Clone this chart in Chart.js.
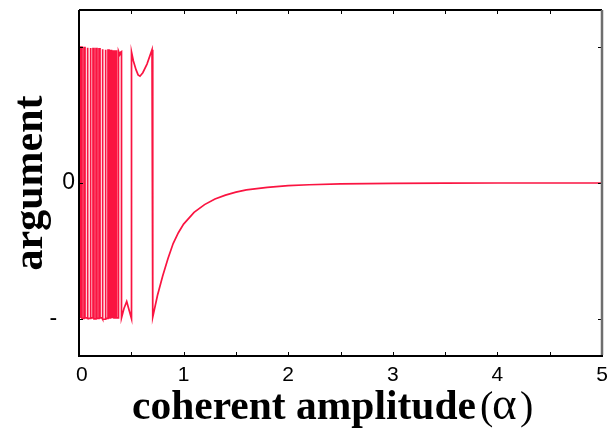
<!DOCTYPE html>
<html>
<head>
<meta charset="utf-8">
<script src="https://cdn.jsdelivr.net/npm/chart.js@4/dist/chart.umd.min.js"></script>
<style>
  html, body { margin: 0; padding: 0; background: #ffffff; }
  #wrap { width: 613px; height: 428px; }
</style>
</head>
<body>
<div id="wrap"><canvas id="c" width="613" height="428"></canvas></div>
<script>
// ---- data ----
const alpha = [
  0.000, 0.0115, 0.0115, 0.0191, 0.0191, 0.0287, 0.0287, 0.0478, 0.0478, 0.0574,
  0.0574, 0.0765, 0.0765, 0.0860, 0.0860, 0.1052, 0.1052, 0.1147, 0.1147, 0.1338,
  0.1338, 0.1434, 0.1434, 0.1625, 0.1625, 0.1721, 0.1721, 0.1912, 0.1912, 0.2008,
  0.2008, 0.2199, 0.2199, 0.2294, 0.2294, 0.2486, 0.2486, 0.2581, 0.2581, 0.2772,
  0.2772, 0.2868, 0.2868, 0.3011, 0.3011, 0.3107, 0.3107, 0.3250, 0.3250, 0.3346,
  0.3346, 0.3489, 0.3489, 0.3585, 0.3585, 0.3776, 0.3776, 0.390, 0.400, 0.4063,
  0.4063, 0.430, 0.456, 0.480, 0.502, 0.502, 0.520, 0.545, 0.565, 0.583,
  0.610, 0.650, 0.698, 0.705, 0.750, 0.800, 0.850, 0.900, 0.950, 1.000,
  1.100, 1.200, 1.300, 1.400, 1.500, 1.600, 1.800, 2.000, 2.200, 2.500,
  3.000, 3.500, 4.000, 5.000
];
const argValues = [
  3.14, 3.14, -3.12, -3.12, 3.14, 3.14, -3.13, -3.13, 3.13, 3.13,
  -3.12, -3.12, 3.13, 3.13, -3.13, -3.13, 3.12, 3.12, -3.12, -3.12,
  3.11, 3.11, -3.14, -3.14, 3.11, 3.11, -3.13, -3.13, 3.10, 3.10,
  -3.12, -3.12, 3.09, 3.09, -3.15, -3.15, 3.08, 3.08, -3.13, -3.13,
  3.07, 3.07, -3.12, -3.12, 3.06, 3.06, -3.11, -3.11, 3.05, 3.05,
  -3.12, -3.12, 3.05, 3.05, -3.12, -3.12, 3.05, 2.97, 3.03, 3.04,
  -3.12, -2.90, -2.74, -2.95, -3.14, 3.03, 2.82, 2.62, 2.50, 2.47,
  2.55, 2.75, 3.08, -3.10, -2.60, -2.15, -1.75, -1.40, -1.15, -0.95,
  -0.68, -0.50, -0.37, -0.28, -0.21, -0.16, -0.10, -0.06, -0.04, -0.02,
  -0.01, -0.005, 0.00, 0.00
];
const xTickValues = [0, 1, 2, 3, 4, 5];
const xTickLabels = [' 0', '1', '2', '3', '4', '5'];
const yTickValues = [-Math.PI, 0, Math.PI];
const yTickLabels = ['-\u2002 ', '0', ''];

const points = alpha.map((a, i) => ({ x: a, y: argValues[i] }));

const framePlugin = {
  id: 'frame',
  afterDraw(chart) {
    const { ctx, chartArea: a, scales } = chart;
    const xs = scales.x, ys = scales.y;
    ctx.save();
    // inward tick marks
    ctx.strokeStyle = '#000';
    ctx.lineWidth = 1;
    ctx.beginPath();
    for (let v = 0; v <= 5.0001; v += 0.5) {
      const px = Math.round(xs.getPixelForValue(v)) + 0.5;
      ctx.moveTo(px, a.bottom); ctx.lineTo(px, a.bottom - 4);
      ctx.moveTo(px, a.top); ctx.lineTo(px, a.top + 4);
    }
    yTickValues.forEach(v => {
      const py = Math.round(ys.getPixelForValue(v)) + 0.5;
      ctx.moveTo(a.left, py); ctx.lineTo(a.left + 4, py);
      ctx.moveTo(a.right, py); ctx.lineTo(a.right - 4, py);
    });
    ctx.stroke();
    // frame
    ctx.lineWidth = 2;
    ctx.strokeStyle = '#000';
    ctx.beginPath();
    ctx.moveTo(a.left, a.top); ctx.lineTo(a.right, a.top);
    ctx.moveTo(a.left, a.top); ctx.lineTo(a.left, a.bottom);
    ctx.moveTo(a.left - 1, a.bottom); ctx.lineTo(a.right + 1, a.bottom);
    ctx.stroke();
    ctx.strokeStyle = '#6e6e6e';
    ctx.lineWidth = 2.5;
    ctx.beginPath();
    ctx.moveTo(a.right, a.top); ctx.lineTo(a.right, a.bottom - 1);
    ctx.stroke();
    // x-axis title: bold serif words + regular (α)
    ctx.fillStyle = '#000';
    ctx.textBaseline = 'alphabetic';
    ctx.textAlign = 'left';
    ctx.font = 'bold 41.5px "Liberation Serif"';
    ctx.fillText('coherent amplitude', 132, 419);
    ctx.font = '40px "Liberation Serif"';
    ctx.fillText('(', 480, 419);
    ctx.fillText(')', 520, 419);
    ctx.font = '47px "Liberation Serif"';
    ctx.fillText('α', 492, 419);
    ctx.restore();
  }
};

new Chart(document.getElementById('c'), {
  type: 'line',
  data: {
    datasets: [{
      data: points,
      borderColor: 'rgb(250,20,65)',
      backgroundColor: 'rgb(250,20,65)',
      borderWidth: 1.7,
      pointRadius: 0,
      tension: 0,
      fill: false
    }]
  },
  options: {
    responsive: false,
    animation: false,
    devicePixelRatio: 1,
    layout: { padding: { left: 0, right: 11, top: 10, bottom: 0 } },
    plugins: { legend: { display: false }, tooltip: { enabled: false } },
    scales: {
      x: {
        type: 'linear',
        min: 0, max: 5,
        grid: { display: false, drawTicks: false },
        border: { display: false },
        afterBuildTicks: s => { s.ticks = xTickValues.map(v => ({ value: v })); },
        afterFit: s => { s.height = 72; s.paddingLeft = 0; s.paddingRight = 0; },
        ticks: {
          color: '#000',
          font: { family: '"Liberation Sans"', size: 21 },
          padding: 7,
          maxRotation: 0,
          autoSkip: false,
          callback: (v, i) => xTickLabels[i]
        }
      },
      y: {
        type: 'linear',
        min: -4, max: 4,
        grid: { display: false, drawTicks: false },
        border: { display: false },
        afterBuildTicks: s => { s.ticks = yTickValues.map(v => ({ value: v })); },
        afterFit: s => { s.width = 79; s.paddingTop = 0; s.paddingBottom = 0; },
        ticks: {
          color: '#000',
          font: { family: '"Liberation Sans"', size: 23 },
          padding: 4,
          autoSkip: false,
          callback: (v, i) => yTickLabels[i]
        },
        title: {
          display: true,
          text: 'argument',
          color: '#000',
          font: { family: '"Liberation Serif"', size: 42, weight: 'bold', lineHeight: 1.2 },
          padding: { top: 6, bottom: 0 }
        }
      }
    }
  },
  plugins: [framePlugin]
});
</script>
</body>
</html>
